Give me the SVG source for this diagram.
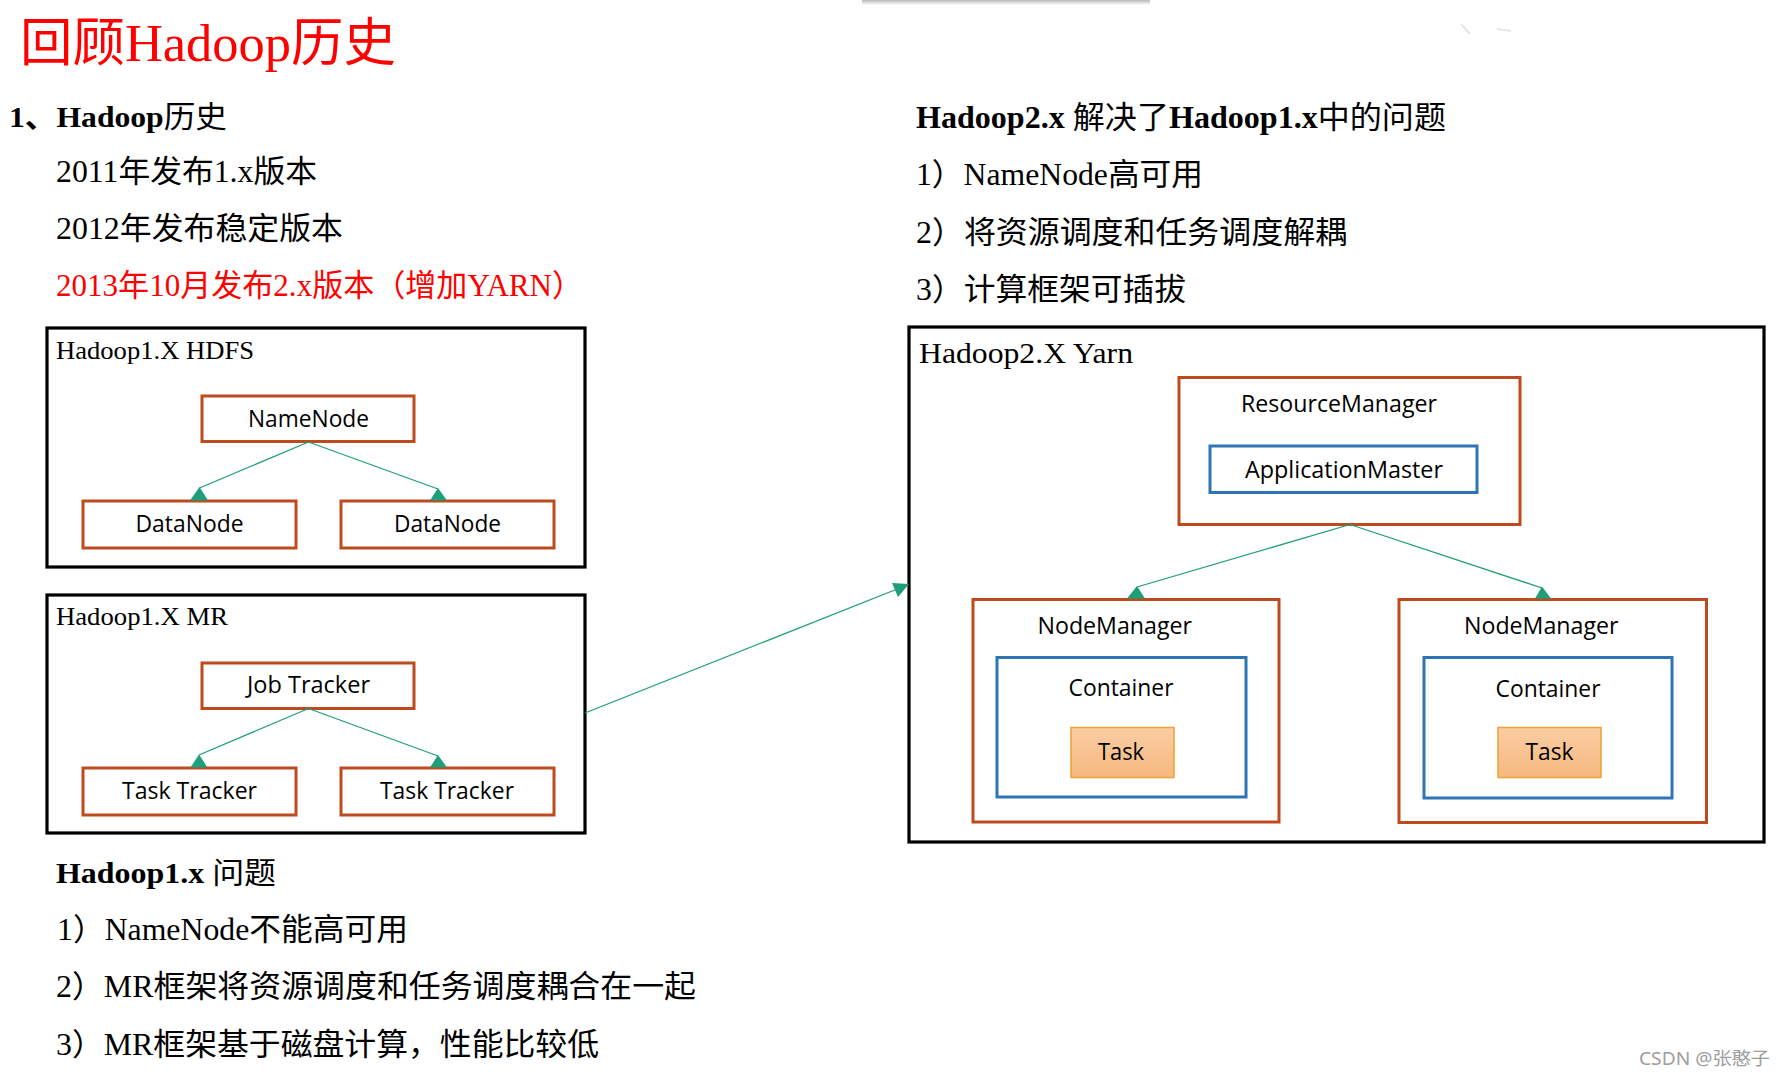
<svg xmlns="http://www.w3.org/2000/svg" width="1785" height="1078" viewBox="0 0 1785 1078">
<defs>
<linearGradient id="taskFill" x1="0" y1="0" x2="0" y2="1">
<stop offset="0" stop-color="#F9CDA3"/>
<stop offset="1" stop-color="#F6B87F"/>
</linearGradient>
<linearGradient id="shadow" x1="0" y1="0" x2="0" y2="1">
<stop offset="0" stop-color="#b8b8b8"/>
<stop offset="1" stop-color="#ffffff"/>
</linearGradient>
<style>
.serif{font-family:'Liberation Serif','Noto Sans CJK SC',serif;fill:#000}
.bold{font-weight:bold}
.nb{font-weight:normal}
.red{fill:#FF0000}
.big{font-size:31px}
.frame{fill:#fff;stroke:#000;stroke-width:3.2}
.orange{fill:#fff;stroke:#BE4B1E;stroke-width:3}
.blue{fill:#fff;stroke:#2E75B6;stroke-width:3}
.task{fill:url(#taskFill);stroke:#F0A030;stroke-width:1.5}
.lbl{font-family:'Open Sans','Noto Sans',sans-serif;font-size:23px;fill:#000}
.ftitle{font-family:'Liberation Serif','Noto Sans CJK SC',serif;font-size:25px;fill:#000}
.conn{stroke:#1F9E7A;stroke-width:1.3;fill:none}
.head{fill:#1F9E7A;stroke:none}
</style>
</defs>
<rect width="1785" height="1078" fill="#fff"/>
<rect x="862" y="0" width="288" height="5" fill="url(#shadow)"/>
<path d="M1461 24 L1470 34 M1497 29 L1511 31" stroke="#e6e6e6" stroke-width="2" fill="none"/>

<g id="texts">
<text class="serif red" x="20" y="61" font-size="52" textLength="376" lengthAdjust="spacingAndGlyphs">回顾Hadoop历史</text>
<text class="serif bold" x="9" y="127" font-size="30" textLength="218" lengthAdjust="spacingAndGlyphs">1、Hadoop<tspan class="nb">历史</tspan></text>
<text class="serif big" x="56" y="182" textLength="261" lengthAdjust="spacingAndGlyphs">2011年发布1.x版本</text>
<text class="serif big" x="56" y="239" textLength="287" lengthAdjust="spacingAndGlyphs">2012年发布稳定版本</text>
<text class="serif big red" x="56" y="296" textLength="527" lengthAdjust="spacingAndGlyphs">2013年10月发布2.x版本（增加YARN）</text>
<text class="serif bold" x="56" y="883" font-size="30" textLength="220" lengthAdjust="spacingAndGlyphs">Hadoop1.x <tspan class="nb">问题</tspan></text>
<text class="serif big" x="57" y="940" textLength="351" lengthAdjust="spacingAndGlyphs">1）NameNode不能高可用</text>
<text class="serif big" x="56" y="997" textLength="640" lengthAdjust="spacingAndGlyphs">2）MR框架将资源调度和任务调度耦合在一起</text>
<text class="serif big" x="56" y="1055" textLength="543" lengthAdjust="spacingAndGlyphs">3）MR框架基于磁盘计算，性能比较低</text>
<text class="serif bold" x="916" y="128" font-size="31" textLength="530" lengthAdjust="spacingAndGlyphs">Hadoop2.x <tspan class="nb">解决了</tspan>Hadoop1.x<tspan class="nb">中的问题</tspan></text>
<text class="serif big" x="916" y="185" textLength="287" lengthAdjust="spacingAndGlyphs">1）NameNode高可用</text>
<text class="serif big" x="916" y="243" textLength="431" lengthAdjust="spacingAndGlyphs">2）将资源调度和任务调度解耦</text>
<text class="serif big" x="916" y="300" textLength="270" lengthAdjust="spacingAndGlyphs">3）计算框架可插拔</text>
<text x="1639" y="1065" font-family="'Noto Sans','Noto Sans CJK SC',sans-serif" font-size="18" fill="#9d9d9d" textLength="131" lengthAdjust="spacingAndGlyphs">CSDN @张憨子</text>
</g>

<g id="hdfs">
<rect class="frame" x="47" y="328" width="538" height="239"/>
<text class="ftitle" x="56" y="359" textLength="198" lengthAdjust="spacingAndGlyphs">Hadoop1.X HDFS</text>
</g>
<g id="namenode">
<rect class="orange" x="202" y="396" width="212" height="45.5"/>
<text class="lbl" x="248" y="427" textLength="121" lengthAdjust="spacingAndGlyphs">NameNode</text>
</g>
<g id="datanode1">
<rect class="orange" x="83" y="501" width="213" height="47"/>
<text class="lbl" x="135.5" y="532" textLength="108" lengthAdjust="spacingAndGlyphs">DataNode</text>
</g>
<g id="datanode2">
<rect class="orange" x="341" y="501" width="213" height="47"/>
<text class="lbl" x="394" y="532" textLength="107" lengthAdjust="spacingAndGlyphs">DataNode</text>
</g>

<g id="mr">
<rect class="frame" x="47" y="595" width="538" height="238"/>
<text class="ftitle" x="56" y="625" textLength="172" lengthAdjust="spacingAndGlyphs">Hadoop1.X MR</text>
</g>
<g id="jobtracker">
<rect class="orange" x="202" y="663" width="212" height="45.5"/>
<text class="lbl" x="247" y="693" textLength="123" lengthAdjust="spacingAndGlyphs">Job Tracker</text>
</g>
<g id="tasktracker1">
<rect class="orange" x="83" y="768" width="213" height="47"/>
<text class="lbl" x="122" y="799" textLength="135" lengthAdjust="spacingAndGlyphs">Task Tracker</text>
</g>
<g id="tasktracker2">
<rect class="orange" x="341" y="768" width="213" height="47"/>
<text class="lbl" x="380" y="799" textLength="134" lengthAdjust="spacingAndGlyphs">Task Tracker</text>
</g>

<g id="yarn">
<rect class="frame" x="909" y="327" width="855" height="515"/>
<text x="919" y="363" font-family="'Liberation Serif','Noto Sans CJK SC',serif" font-size="30" fill="#000" textLength="214" lengthAdjust="spacingAndGlyphs">Hadoop2.X Yarn</text>
</g>
<g id="resourcemanager">
<rect class="orange" x="1179" y="377.5" width="341" height="147"/>
<text class="lbl" x="1241" y="412" textLength="196" lengthAdjust="spacingAndGlyphs">ResourceManager</text>
</g>
<g id="applicationmaster">
<rect class="blue" x="1210" y="446" width="267" height="46.5"/>
<text class="lbl" x="1245" y="477.5" textLength="198" lengthAdjust="spacingAndGlyphs">ApplicationMaster</text>
</g>
<g id="nodemanager1">
<rect class="orange" x="973" y="599.5" width="306" height="222.5"/>
<text class="lbl" x="1037.5" y="633.5" textLength="154.5" lengthAdjust="spacingAndGlyphs">NodeManager</text>
</g>
<g id="container1">
<rect class="blue" x="997" y="657.5" width="249" height="139.5"/>
<text class="lbl" x="1068.5" y="696" textLength="105" lengthAdjust="spacingAndGlyphs">Container</text>
</g>
<g id="task1">
<rect class="task" x="1071" y="727.5" width="103" height="50"/>
<text class="lbl" x="1098" y="759.5" textLength="46" lengthAdjust="spacingAndGlyphs">Task</text>
</g>
<g id="nodemanager2">
<rect class="orange" x="1399" y="599.5" width="307.5" height="223"/>
<text class="lbl" x="1464" y="633.5" textLength="154.5" lengthAdjust="spacingAndGlyphs">NodeManager</text>
</g>
<g id="container2">
<rect class="blue" x="1424" y="657.5" width="248" height="140.5"/>
<text class="lbl" x="1495.5" y="697" textLength="105" lengthAdjust="spacingAndGlyphs">Container</text>
</g>
<g id="task2">
<rect class="task" x="1498" y="727.5" width="103" height="50"/>
<text class="lbl" x="1525.5" y="759.5" textLength="48" lengthAdjust="spacingAndGlyphs">Task</text>
</g>

<g id="connectors">
<path class="conn" d="M308.5 442 L199.5 488 M308.5 442 L438 489"/>
<polygon class="head" points="199.5,487 190,500.5 208,500.5"/>
<polygon class="head" points="438,488 430,500.5 447,500.5"/>
<path class="conn" d="M308.5 708.5 L199 755 M308.5 708.5 L438 756"/>
<polygon class="head" points="199,754.5 190.5,767.5 207.5,767.5"/>
<polygon class="head" points="438,755 430,767.5 447,767.5"/>
<path class="conn" d="M1350 524.5 L1137 587 M1350 524.5 L1542 588"/>
<polygon class="head" points="1137,586 1127,598.5 1145,598.5"/>
<polygon class="head" points="1542,586.5 1535,598.5 1551,598.5"/>
<path class="conn" d="M585 713 L896 589.5"/>
<polygon class="head" points="909,584 892,583 898,597"/>
</g>
</svg>
